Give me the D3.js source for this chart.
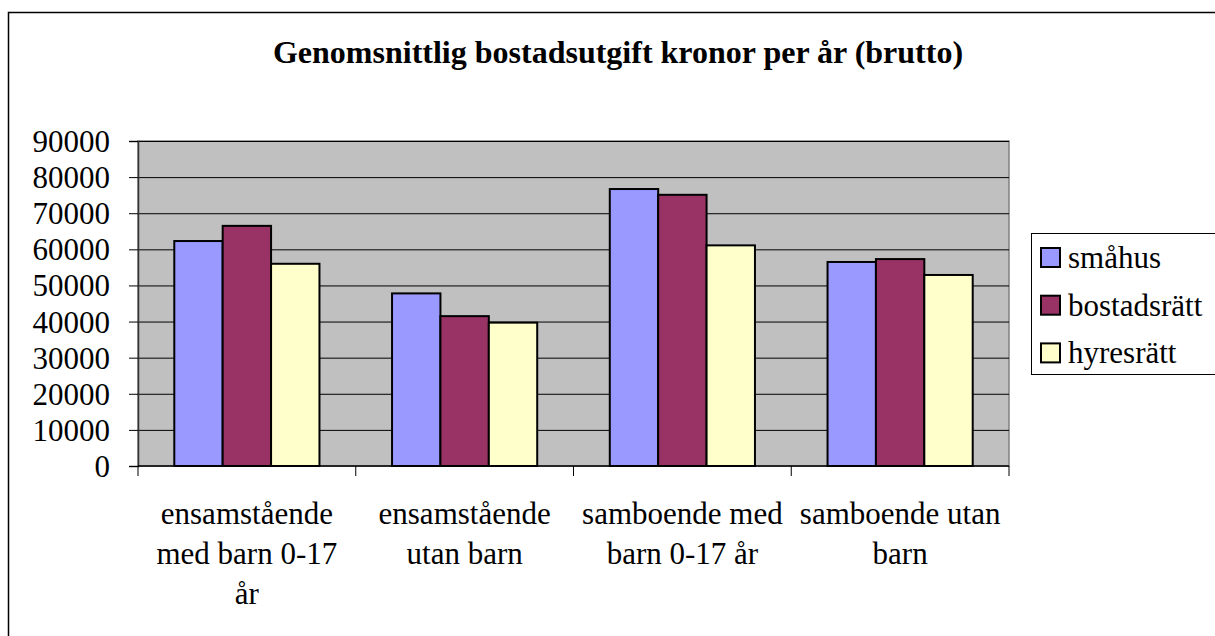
<!DOCTYPE html>
<html>
<head>
<meta charset="utf-8">
<script src="https://cdn.jsdelivr.net/npm/d3@7"></script>
<style>
  body { margin: 0; background: #fff; }
</style>
</head>
<body>
<div class="chart"></div>
<script>
let FRAME_WIDTH = 1215;
let FRAME_HEIGHT = 636;
let PLOT = {left: 138, right: 1009, top: 141, bottom: 466};
let FONT = "'Liberation Serif'";
let FONT_SIZE = 31;

// data
let CATEGORIES = [
  ["ensamstående", "med barn 0-17", "år"],
  ["ensamstående", "utan barn"],
  ["samboende med", "barn 0-17 år"],
  ["samboende utan", "barn"]
];
let SERIES = ["småhus", "bostadsrätt", "hyresrätt"];
let COLORS = ["#9999FF", "#993366", "#FFFFCC"];
let SMAHUS = [62300, 47800, 76700, 56500];
let BOSTADSRATT = [66500, 41500, 75100, 57300];
let HYRESRATT = [56000, 39700, 61100, 52900];
let Y_TICKS = [0, 10000, 20000, 30000, 40000, 50000, 60000, 70000, 80000, 90000];
let TITLE = "Genomsnittlig bostadsutgift kronor per år (brutto)";

let VALUES = [SMAHUS, BOSTADSRATT, HYRESRATT];

let svg = d3.select(".chart")
  .append("svg")
  .attr("width", FRAME_WIDTH)
  .attr("height", FRAME_HEIGHT);

// outer chart border (runs off the right and bottom)
svg.append("rect")
  .attr("x", 8.5).attr("y", 12.5)
  .attr("width", 1300).attr("height", 700)
  .attr("fill", "none").attr("stroke", "#000").attr("stroke-width", 1.5);

svg.append("text")
  .attr("x", 618).attr("y", 63)
  .attr("text-anchor", "middle")
  .style("font-family", FONT)
  .style("font-weight", "bold")
  .style("font-size", "32px")
  .text(TITLE);

const X_SCALE = d3.scaleBand()
  .domain(d3.range(CATEGORIES.length))
  .range([PLOT.left, PLOT.right]);

const X_INNER = d3.scaleBand()
  .domain(d3.range(SERIES.length))
  .range([0, X_SCALE.bandwidth()])
  .paddingOuter(0.75)
  .paddingInner(0);

const Y_SCALE = d3.scaleLinear()
  .domain([0, 90000])
  .range([PLOT.bottom, PLOT.top]);

// plot background
svg.append("rect")
  .attr("x", PLOT.left).attr("y", PLOT.top)
  .attr("width", PLOT.right - PLOT.left).attr("height", PLOT.bottom - PLOT.top)
  .attr("fill", "#C0C0C0")
  .attr("stroke", "#808080").attr("stroke-width", 1.5);

// gridlines
svg.append("g")
  .selectAll("line")
  .data(Y_TICKS.filter(d => d > 0))
  .enter()
  .append("line")
    .attr("x1", PLOT.left).attr("x2", PLOT.right)
    .attr("y1", d => Y_SCALE(d) + 0.5).attr("y2", d => Y_SCALE(d) + 0.5)
    .attr("stroke", "#000").attr("stroke-width", 1);

// bars
let groups = svg.append("g")
  .selectAll("g")
  .data(VALUES)
  .enter()
  .append("g")
    .attr("fill", (d, i) => COLORS[i]);

groups.selectAll("rect")
  .data((d, i) => d.map(v => ({v: v, s: i})))
  .enter()
  .append("rect")
    .attr("x", (d, j) => X_SCALE(j) + X_INNER(d.s))
    .attr("y", d => Y_SCALE(d.v))
    .attr("width", X_INNER.bandwidth())
    .attr("height", d => PLOT.bottom - Y_SCALE(d.v))
    .attr("stroke", "#000").attr("stroke-width", 2);

// y axis
let yAxis = svg.append("g")
  .attr("transform", "translate(" + PLOT.left + ",0)")
  .call(d3.axisLeft(Y_SCALE).tickValues(Y_TICKS).tickFormat(d3.format("d")).tickSizeOuter(0).tickSize(9).tickPadding(19));
yAxis.select(".domain").attr("stroke", "#333").attr("stroke-width", 1.5);
yAxis.selectAll("line").attr("stroke", "#000");
yAxis.selectAll("text")
  .attr("dy", "0.34em")
  .style("font-family", FONT)
  .style("font-size", FONT_SIZE + "px");

// x axis
let xAxis = svg.append("g")
  .attr("transform", "translate(0," + PLOT.bottom + ")");
xAxis.append("line")
  .attr("x1", PLOT.left).attr("x2", PLOT.right)
  .attr("y1", 0).attr("y2", 0)
  .attr("stroke", "#000").attr("stroke-width", 1.5);
xAxis.selectAll(".tick")
  .data(d3.range(CATEGORIES.length + 1))
  .enter()
  .append("line")
    .attr("x1", d => d < CATEGORIES.length ? X_SCALE(d) : PLOT.right)
    .attr("x2", d => d < CATEGORIES.length ? X_SCALE(d) : PLOT.right)
    .attr("y1", 0).attr("y2", 10)
    .attr("stroke", "#000");

let labels = xAxis.selectAll(".cat")
  .data(CATEGORIES)
  .enter()
  .append("text")
    .attr("class", "cat")
    .attr("text-anchor", "middle")
    .style("font-family", FONT)
    .style("font-size", FONT_SIZE + "px")
    .attr("transform", (d, i) => "translate(" + (X_SCALE(i) + X_SCALE.bandwidth() / 2) + ",57.5)");
labels.selectAll("tspan")
  .data(d => d)
  .enter()
  .append("tspan")
    .attr("x", 0)
    .attr("y", (d, i) => i * 40.3)
    .text(d => d);

// legend
let legend = svg.append("g");
legend.append("rect")
  .attr("x", 1031.5).attr("y", 233.5)
  .attr("width", 300).attr("height", 141)
  .attr("fill", "#fff").attr("stroke", "#000").attr("stroke-width", 1);

let items = legend.selectAll(".item")
  .data(SERIES)
  .enter()
  .append("g")
    .attr("transform", (d, i) => "translate(1041," + (248 + i * 47.7) + ")");
items.append("rect")
  .attr("width", 19).attr("height", 19)
  .attr("fill", (d, i) => COLORS[i])
  .attr("stroke", "#000").attr("stroke-width", 2);
items.append("text")
  .attr("x", 27).attr("y", 20)
  .style("font-family", FONT)
  .style("font-size", FONT_SIZE + "px")
  .text(d => d);
</script>
</body>
</html>
